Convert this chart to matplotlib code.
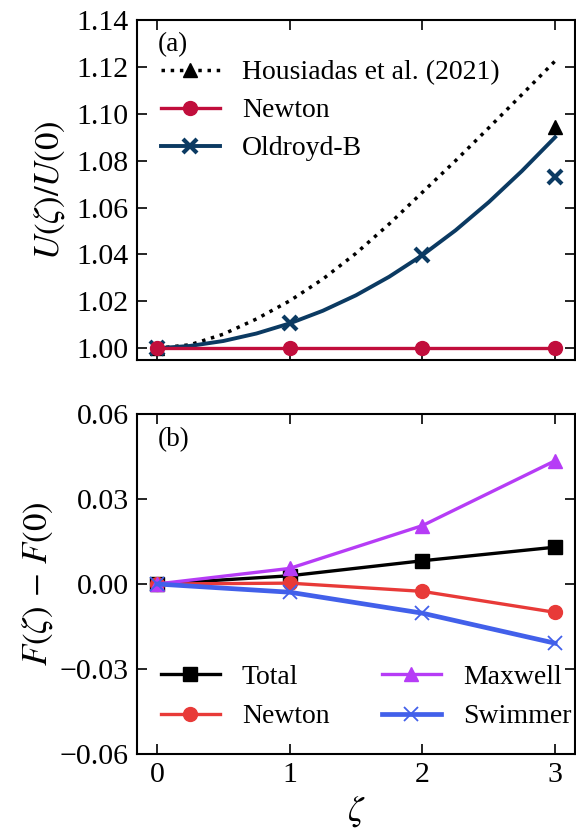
import matplotlib
matplotlib.use("Agg")
import matplotlib.pyplot as plt
from matplotlib.lines import Line2D

plt.rcParams['font.family'] = ['Liberation Serif', 'DejaVu Serif']
plt.rcParams['mathtext.fontset'] = 'stix'
plt.rcParams['font.size'] = 20
plt.rcParams['axes.linewidth'] = 1.5

# ---- panel (a) data ----
zeta = [0, 1, 2, 3]
hous_curve_x = [0, 0.25, 0.5, 0.75, 1.0, 1.25, 1.5, 1.75, 2.0, 2.25, 2.5, 2.75, 3.0]
hous_curve_y = [1.000, 1.0015, 1.0060, 1.0125, 1.0202, 1.0295, 1.0405, 1.0530,
                1.0665, 1.0800, 1.0940, 1.1082, 1.1225]
hous_pt_x = [0, 3]
hous_pt_y = [1.000, 1.0943]
newton_a = [1.000, 1.000, 1.000, 1.000]
oldb_curve_x = [0, 0.25, 0.5, 0.75, 1.0, 1.25, 1.5, 1.75, 2.0, 2.25, 2.5, 2.75, 3.0]
oldb_curve_y = [1.000, 1.0010, 1.0031, 1.0063, 1.0106, 1.0160, 1.0226, 1.0305,
                1.0397, 1.0503, 1.0623, 1.0756, 1.0900]
oldb_pts = [1.000, 1.0107, 1.0397, 1.0730]
yticks_a = [1.00, 1.02, 1.04, 1.06, 1.08, 1.10, 1.12, 1.14]

# ---- panel (b) data ----
total = [0.0, 0.0029, 0.0082, 0.0130]
newton_b = [0.0, 0.0003, -0.0026, -0.0100]
maxwell = [0.0, 0.0055, 0.0206, 0.0435]
swimmer = [0.0, -0.0029, -0.0103, -0.0209]
yticks_b = [-0.06, -0.03, 0.00, 0.03, 0.06]

c_newton_a = '#C10E3C'
c_oldb = '#0B3A62'
c_newton_b = '#E83A38'
c_maxwell = '#B63CF6'
c_swimmer = '#4260EA'

TICK_FS = 21.5
LEG_FS = 20
LAB_FS = 25
PAN_FS = 19.5

fig = plt.figure(figsize=(5.76, 8.32), dpi=100)
W, H = 576, 832
axa = fig.add_axes([137/W, (H-360)/H, 438/W, 340/H])
axb = fig.add_axes([137/W, (H-754)/H, 438/W, 340/H])

for ax in (axa, axb):
    ax.tick_params(direction='in', top=True, right=True, length=7, width=1.2,
                   pad=6, labelsize=TICK_FS)
    ax.set_xlim(-0.15, 3.15)
    ax.set_xticks([0, 1, 2, 3])

# panel (a)
axa.plot(hous_curve_x, hous_curve_y, ':', color='black', lw=2.5, zorder=2)
axa.plot(hous_pt_x, hous_pt_y, '^', color='black', ms=10, ls='none', zorder=3)
axa.plot(oldb_curve_x, oldb_curve_y, '-', color=c_oldb, lw=2.8, zorder=2)
axa.plot(zeta, oldb_pts, 'x', color=c_oldb, ms=10, mew=3, ls='none', zorder=3)
axa.plot(zeta, newton_a, '-o', color=c_newton_a, lw=2.4, ms=10, zorder=4)
axa.set_ylim(0.995, 1.14)
axa.set_yticks(yticks_a)
axa.set_yticklabels([f'{v:.2f}' for v in yticks_a])
axa.tick_params(labelbottom=False)
axa.set_ylabel(r'$U(\zeta)/U(0)$', fontsize=LAB_FS, labelpad=7)
axa.text(0.048, 0.929, '(a)', transform=axa.transAxes, fontsize=PAN_FS,
         va='center', ha='left')
handles_a = [
    Line2D([], [], ls=':', color='black', lw=2.5, marker='^', ms=10),
    Line2D([], [], ls='-', color=c_newton_a, lw=2.4, marker='o', ms=10),
    Line2D([], [], ls='-', color=c_oldb, lw=2.8, marker='x', ms=10, mew=3),
]
axa.legend(handles_a, ['Housiadas et al. (2021)', 'Newton', 'Oldroyd-B'],
           loc='upper left', bbox_to_anchor=(0.03, 0.915), frameon=False,
           fontsize=LEG_FS, handlelength=2.1, handletextpad=0.8,
           labelspacing=0.45, borderaxespad=0.0)

# panel (b)
axb.plot(zeta, total, '-s', color='black', lw=2.4, ms=10, label='Total', zorder=2)
axb.plot(zeta, newton_b, '-o', color=c_newton_b, lw=2.4, ms=10, label='Newton', zorder=3)
axb.plot(zeta, maxwell, '-^', color=c_maxwell, lw=2.4, ms=10, label='Maxwell', zorder=4)
axb.plot(zeta, swimmer, '-x', color=c_swimmer, lw=3.4, ms=10, mew=1.3,
         label='Swimmer', zorder=5)
axb.set_ylim(-0.06, 0.06)
axb.set_yticks(yticks_b)
axb.set_yticklabels([f'{v:.2f}'.replace('-', '\u2212') for v in yticks_b])
axb.set_ylabel(r'$F(\zeta)\,-\,F(0)$', fontsize=LAB_FS, labelpad=3)
axb.set_xlabel(r'$\zeta$', fontsize=LAB_FS, labelpad=4)
axb.text(0.048, 0.925, '(b)', transform=axb.transAxes, fontsize=PAN_FS,
         va='center', ha='left')
axb.legend(loc='lower left', bbox_to_anchor=(0.03, 0.04), ncol=2, frameon=False,
           fontsize=LEG_FS, handlelength=2.1, handletextpad=0.8,
           labelspacing=0.5, columnspacing=1.9, borderaxespad=0.0)

fig.savefig('out.png', dpi=100)
